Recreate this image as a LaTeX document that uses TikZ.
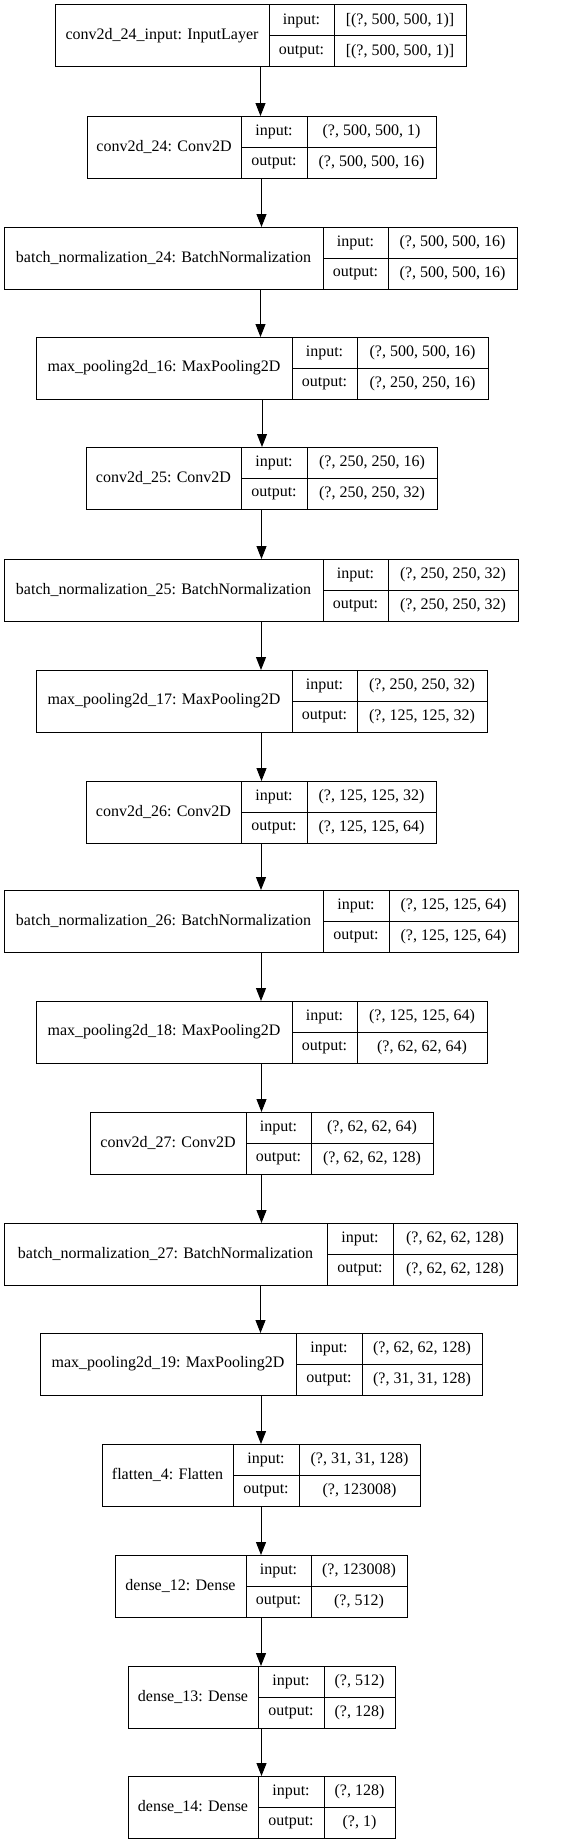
\documentclass[tikz,border=0pt]{standalone}
\usepackage{fontspec}
\setmainfont{Liberation Serif}
\usetikzlibrary{arrows.meta}

% one layer: name, top, x left, x key, x value, x right, label, input, output
\newcommand{\layerbox}[9]{%
  \node[box, minimum width={(#6-#3)*1pt}, minimum height=62pt] (#1) at (#3,#2) {};
  \node[box, minimum width={(#4-#3)*1pt}, minimum height=62pt] (#1-name) at (#3,#2) {#7};
  \node[cell, minimum width={(#5-#4)*1pt}] (#1-inkey) at (#4,#2) {input:};
  \node[cell, minimum width={(#6-#5)*1pt}] (#1-inval) at (#5,#2) {#8};
  \node[cell, minimum width={(#5-#4)*1pt}] (#1-outkey) at (#1-inkey.south west) {output:};
  \node[cell, minimum width={(#6-#5)*1pt}] (#1-outval) at (#1-inval.south west) {#9};
}

\begin{document}
\begin{tikzpicture}[x=1pt, y=-1pt,
  box/.style={draw, line width=1pt, inner sep=0pt, outer sep=0pt, anchor=north west,
    font=\fontsize{16}{19}\selectfont},
  cell/.style={box, minimum height=31pt},
  flow/.style={-{Triangle[length=13pt,width=10pt]}, line width=1pt}]

  \useasboundingbox (0,0) rectangle (583,1844);

  % Input
  \layerbox{inp}{5}{55}{269}{334}{466}{conv2d\_24\_input: InputLayer}{[(?, 500, 500, 1)]}{[(?, 500, 500, 1)]}

  % Block 1
  \layerbox{conv24}{116}{87}{241}{307}{436}{conv2d\_24: Conv2D}{(?, 500, 500, 1)}{(?, 500, 500, 16)}
  \layerbox{bn24}{227}{4}{323}{388}{517}{batch\_normalization\_24: BatchNormalization}{(?, 500, 500, 16)}{(?, 500, 500, 16)}
  \layerbox{pool16}{337}{36}{292}{357}{488}{max\_pooling2d\_16: MaxPooling2D}{(?, 500, 500, 16)}{(?, 250, 250, 16)}

  % Block 2
  \layerbox{conv25}{447}{86}{241}{307}{437}{conv2d\_25: Conv2D}{(?, 250, 250, 16)}{(?, 250, 250, 32)}
  \layerbox{bn25}{559}{4}{323}{388}{518}{batch\_normalization\_25: BatchNormalization}{(?, 250, 250, 32)}{(?, 250, 250, 32)}
  \layerbox{pool17}{670}{36}{292}{357}{487}{max\_pooling2d\_17: MaxPooling2D}{(?, 250, 250, 32)}{(?, 125, 125, 32)}

  % Block 3
  \layerbox{conv26}{781}{86}{241}{307}{436}{conv2d\_26: Conv2D}{(?, 125, 125, 32)}{(?, 125, 125, 64)}
  \layerbox{bn26}{890}{4}{323}{389}{518}{batch\_normalization\_26: BatchNormalization}{(?, 125, 125, 64)}{(?, 125, 125, 64)}
  \layerbox{pool18}{1001}{36}{292}{357}{487}{max\_pooling2d\_18: MaxPooling2D}{(?, 125, 125, 64)}{(?, 62, 62, 64)}

  % Block 4
  \layerbox{conv27}{1112}{90}{246}{311}{433}{conv2d\_27: Conv2D}{(?, 62, 62, 64)}{(?, 62, 62, 128)}
  \layerbox{bn27}{1223}{4}{327}{393}{517}{batch\_normalization\_27: BatchNormalization}{(?, 62, 62, 128)}{(?, 62, 62, 128)}
  \layerbox{pool19}{1333}{40}{296}{362}{482}{max\_pooling2d\_19: MaxPooling2D}{(?, 62, 62, 128)}{(?, 31, 31, 128)}

  % Head
  \layerbox{flat4}{1444}{102}{233}{299}{420}{flatten\_4: Flatten}{(?, 31, 31, 128)}{(?, 123008)}
  \layerbox{dense12}{1555}{115}{246}{311}{407}{dense\_12: Dense}{(?, 123008)}{(?, 512)}
  \layerbox{dense13}{1666}{128}{258}{324}{395}{dense\_13: Dense}{(?, 512)}{(?, 128)}
  \layerbox{dense14}{1776}{128}{258}{324}{395}{dense\_14: Dense}{(?, 128)}{(?, 1)}

  % Arrows
  \foreach \a/\b in {inp/conv24, conv24/bn24, bn24/pool16, pool16/conv25, conv25/bn25,
    bn25/pool17, pool17/conv26, conv26/bn26, bn26/pool18, pool18/conv27, conv27/bn27,
    bn27/pool19, pool19/flat4, flat4/dense12, dense12/dense13, dense13/dense14}
    \draw[flow] (\a.south) -- (\a.south |- \b.north);

\end{tikzpicture}
\end{document}
